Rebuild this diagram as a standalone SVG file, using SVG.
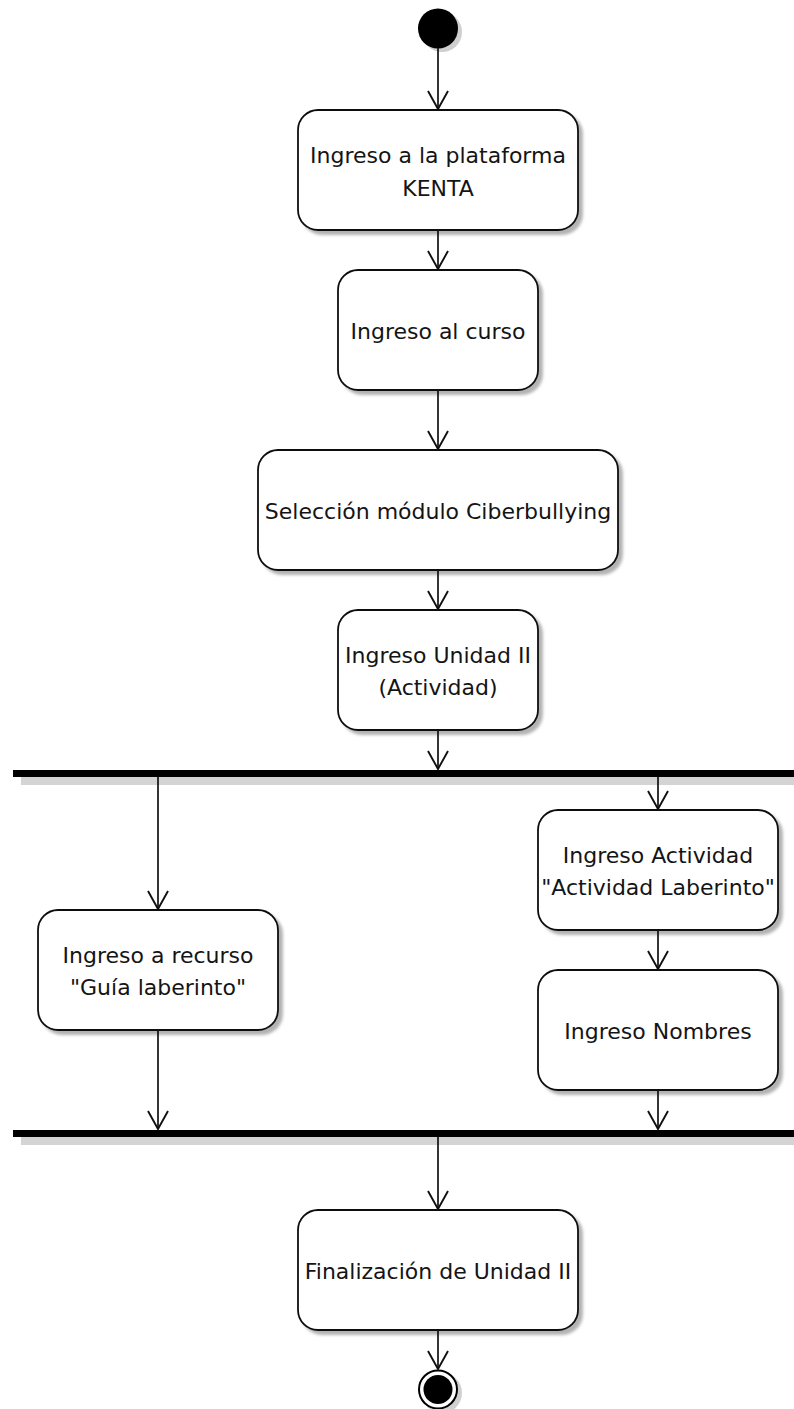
<svg xmlns="http://www.w3.org/2000/svg" width="794" height="1409" viewBox="0 0 794 1409">
  <style>
    .act { fill: #ffffff; stroke: #111111; stroke-width: 1.8; filter: url(#shadow); }
    .lbl { font-family: "DejaVu Sans", "Liberation Sans", sans-serif; font-size: 22px; fill: #141414; text-anchor: middle; }
    .flow { fill: none; stroke: #111111; stroke-width: 1.7; marker-end: url(#open); }
    .bar { fill: #000000; }
    .barShadow { fill: #d4d4d4; }
  </style>
  <defs>
    <filter id="shadow" x="-10%" y="-10%" width="130%" height="130%">
      <feGaussianBlur in="SourceAlpha" stdDeviation="1.8" result="b"/>
      <feOffset in="b" dx="4" dy="4" result="o"/>
      <feFlood flood-color="#000000" flood-opacity="0.3"/>
      <feComposite in2="o" operator="in" result="s"/>
      <feMerge>
        <feMergeNode in="s"/>
        <feMergeNode in="SourceGraphic"/>
      </feMerge>
    </filter>
    <marker id="open" markerUnits="userSpaceOnUse" orient="auto" refX="0" refY="0" markerWidth="24" markerHeight="24" viewBox="-20 -12 22 24" overflow="visible">
      <path d="M-18,-10 L0,0 L-18,10" fill="none" stroke="#111111" stroke-width="1.9"/>
    </marker>
  </defs>

  <!-- initial node -->
  <g id="start">
    <circle cx="442" cy="32" r="20" fill="#cfcfcf"/>
    <circle cx="438" cy="28.5" r="20" fill="#000000"/>
  </g>

  <g id="n1">
    <rect class="act" x="298" y="110" width="280" height="120" rx="20" ry="20"/>
    <text class="lbl" x="438" y="163">Ingreso a la plataforma</text>
    <text class="lbl" x="438" y="196">KENTA</text>
  </g>

  <g id="n2">
    <rect class="act" x="338" y="270" width="200" height="120" rx="20" ry="20"/>
    <text class="lbl" x="438" y="339">Ingreso al curso</text>
  </g>

  <g id="n3">
    <rect class="act" x="258" y="450" width="360" height="120" rx="20" ry="20"/>
    <text class="lbl" x="438" y="519">Selección módulo Ciberbullying</text>
  </g>

  <g id="n4">
    <rect class="act" x="338" y="610" width="200" height="120" rx="20" ry="20"/>
    <text class="lbl" x="438" y="663">Ingreso Unidad II</text>
    <text class="lbl" x="438" y="695">(Actividad)</text>
  </g>

  <!-- fork bar -->
  <g id="fork">
    <rect class="barShadow" x="21" y="777" width="773" height="8"/>
    <rect class="bar" x="13" y="770" width="781" height="7"/>
  </g>

  <g id="n5">
    <rect class="act" x="38" y="910" width="240" height="120" rx="20" ry="20"/>
    <text class="lbl" x="158" y="963">Ingreso a recurso</text>
    <text class="lbl" x="158" y="995">"Guía laberinto"</text>
  </g>

  <g id="n6">
    <rect class="act" x="538" y="810" width="240" height="120" rx="20" ry="20"/>
    <text class="lbl" x="658" y="863">Ingreso Actividad</text>
    <text class="lbl" x="658" y="895">"Actividad Laberinto"</text>
  </g>

  <g id="n7">
    <rect class="act" x="538" y="970" width="240" height="120" rx="20" ry="20"/>
    <text class="lbl" x="658" y="1039">Ingreso Nombres</text>
  </g>

  <!-- join bar -->
  <g id="join">
    <rect class="barShadow" x="21" y="1137" width="773" height="8"/>
    <rect class="bar" x="13" y="1130" width="781" height="7"/>
  </g>

  <g id="n8">
    <rect class="act" x="298" y="1210" width="280" height="120" rx="20" ry="20"/>
    <text class="lbl" x="438" y="1279">Finalización de Unidad II</text>
  </g>

  <!-- final node -->
  <g id="end">
    <circle cx="442" cy="1393" r="20" fill="#d0d0d0"/>
    <circle cx="438" cy="1389.5" r="19" fill="#ffffff" stroke="#000000" stroke-width="2"/>
    <circle cx="438" cy="1389.5" r="14.5" fill="#000000"/>
  </g>

  <!-- connectors -->
  <g id="edges">
    <path class="flow" d="M438,48 L438,109"/>
    <path class="flow" d="M438,230 L438,269"/>
    <path class="flow" d="M438,390 L438,449"/>
    <path class="flow" d="M438,570 L438,609"/>
    <path class="flow" d="M438,730 L438,769"/>
    <path class="flow" d="M158,777 L158,909"/>
    <path class="flow" d="M658,777 L658,809"/>
    <path class="flow" d="M658,930 L658,969"/>
    <path class="flow" d="M158,1030 L158,1129"/>
    <path class="flow" d="M658,1090 L658,1129"/>
    <path class="flow" d="M438,1137 L438,1209"/>
    <path class="flow" d="M438,1330 L438,1369"/>
  </g>
</svg>
